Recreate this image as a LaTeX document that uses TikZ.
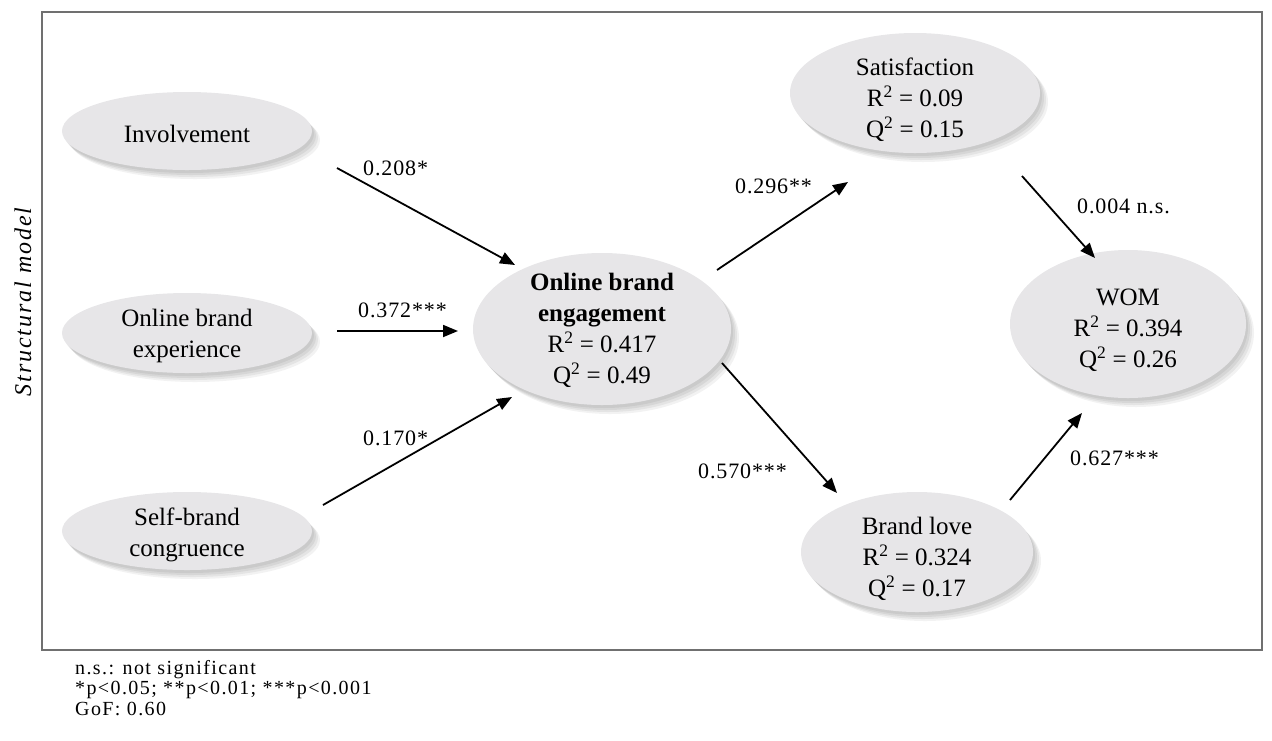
\documentclass[tikz,border=0pt]{standalone}
\usepackage{fontspec}
\setmainfont{Liberation Serif}
\usetikzlibrary{arrows.meta,shapes.geometric,shadows}
\definecolor{ellfill}{RGB}{231,230,232}
\definecolor{framegray}{RGB}{112,112,112}
% centred stack of lines, lowered by #1 without changing the box it reports
\newcommand{\ellipsetext}[2]{\raisebox{-#1}[\height][\depth]{\begin{tabular}{@{}c@{}}#2\end{tabular}}}
\begin{document}
\begin{tikzpicture}[x=1pt,y=-1pt,
  construct/.style={ellipse, fill=ellfill, inner sep=-5pt,
    font=\fontsize{25}{31}\selectfont,
    general shadow={fill=black,opacity=.06,shadow xshift=2pt,shadow yshift=-3pt},
    general shadow={fill=black,opacity=.06,shadow xshift=4pt,shadow yshift=-5pt},
    general shadow={fill=black,opacity=.06,shadow xshift=6pt,shadow yshift=-7pt},
    general shadow={fill=black,opacity=.05,shadow xshift=8pt,shadow yshift=-9pt}},
  pathline/.style={line width=1.8pt, -{Triangle[length=15pt,width=12pt]}},
  coef/.style={anchor=base west, inner sep=0pt,
    font=\fontsize{22}{24}\selectfont\addfontfeature{LetterSpace=4}},
]
\useasboundingbox (0,0) rectangle (1272,740);

% outer frame and side title
\draw[framegray, line width=2pt] (42,12) rectangle (1262,650);
\node[rotate=90, inner sep=0pt,
  font=\fontsize{24}{26}\selectfont\itshape\addfontfeature{LetterSpace=8}]
  (title) at (23,302) {Structural model};

% antecedents
\node[construct, minimum width=250pt, minimum height=78pt] (inv) at (187,131)
  {\ellipsetext{5.5pt}{Involvement}};
\node[construct, minimum width=250pt, minimum height=80pt] (exp) at (187,333)
  {\ellipsetext{3pt}{Online brand\\experience}};
\node[construct, minimum width=250pt, minimum height=78pt] (cong) at (187,531)
  {\ellipsetext{3.5pt}{Self-brand\\congruence}};

% mediator
\node[construct, minimum width=258pt, minimum height=152pt, inner ysep=-9pt] (obe) at (602,329)
  {\ellipsetext{2pt}{\textbf{Online brand}\\\textbf{engagement}\\R\textsuperscript{2} = 0.417\\Q\textsuperscript{2} = 0.49}};

% outcomes
\node[construct, minimum width=250pt, minimum height=120pt] (sat) at (915,93)
  {\ellipsetext{7pt}{Satisfaction\\R\textsuperscript{2} = 0.09\\Q\textsuperscript{2} = 0.15}};
\node[construct, minimum width=232pt, minimum height=120pt] (love) at (917,552)
  {\ellipsetext{7pt}{Brand love\\R\textsuperscript{2} = 0.324\\Q\textsuperscript{2} = 0.17}};
\node[construct, minimum width=236pt, minimum height=148pt] (wom) at (1128,324)
  {\ellipsetext{6pt}{WOM\\R\textsuperscript{2} = 0.394\\Q\textsuperscript{2} = 0.26}};

% structural paths
\draw[pathline] ([shift={(150,37)}]inv.center) -- ([shift={(-87,-64)}]obe.center);
\draw[pathline] ([shift={(150,-2)}]exp.center) -- ([shift={(-144,2)}]obe.center);
\draw[pathline] ([shift={(136,-26)}]cong.center) -- ([shift={(-90,68)}]obe.center);
\draw[pathline] ([shift={(115,-59)}]obe.center) -- ([shift={(-67,89)}]sat.center);
\draw[pathline] ([shift={(120,34)}]obe.center) -- ([shift={(-80,-59)}]love.center);
\draw[pathline] ([shift={(107,83)}]sat.center) -- ([shift={(-33,-66)}]wom.center);
\draw[pathline] ([shift={(93,-52)}]love.center) -- ([shift={(-46,89)}]wom.center);

% path coefficients
\node[coef] (c1) at (363,175) {0.208*};
\node[coef] (c2) at (358,317) {0.372***};
\node[coef] (c3) at (363,445) {0.170*};
\node[coef] (c4) at (735,193) {0.296**};
\node[coef] (c5) at (698,478) {0.570***};
\node[coef] (c6) at (1077,213) {0.004 n.s.};
\node[coef] (c7) at (1070,465) {0.627***};

% significance notes
\node[anchor=north west, align=left, inner sep=0pt,
  font=\fontsize{20}{20.5}\selectfont\addfontfeature{LetterSpace=7}]
  (notes) at (75,660) {n.s.: not significant\\*p<0.05; **p<0.01; ***p<0.001\\GoF: 0.60};
\end{tikzpicture}
\end{document}
